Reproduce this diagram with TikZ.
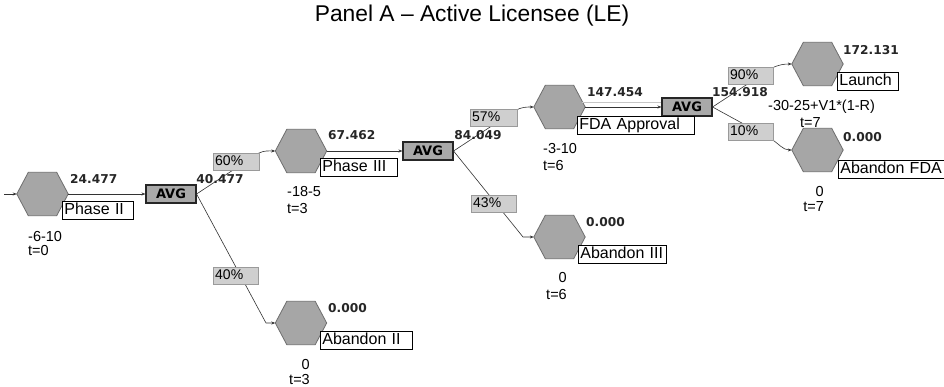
\documentclass[tikz,border=0pt]{standalone}
\usepackage{fontspec}
\setmainfont{Liberation Sans}
\newfontfamily\numfont{DejaVu Sans}
\usetikzlibrary{arrows.meta}
\definecolor{hexfill}{HTML}{A6A6A6}
\definecolor{hexline}{HTML}{6E6E6E}
\definecolor{avgfill}{HTML}{A9A9A9}
\definecolor{pctfill}{HTML}{CFCFCF}
\definecolor{pctline}{HTML}{9A9A9A}
\tikzset{
  hexbox/.style={inner sep=0pt, minimum width=51pt, minimum height=43pt},
  hexstyle/.style={fill=hexfill, draw=hexline, line width=0.8pt, line join=miter},
  avgbox/.style={draw=black!85, line width=1.1pt, fill=avgfill, inner sep=0pt,
    minimum width=50pt, minimum height=18pt,
    font=\numfont\bfseries\fontsize{13}{13}\selectfont},
  pctbox/.style={draw=pctline, fill=pctfill, anchor=north west, align=left,
    inner xsep=2pt, inner ysep=0pt, text height=10.5pt, text depth=3pt, minimum height=17pt,
    font=\fontsize{14}{14}\selectfont},
  lblbox/.style={draw=black, line width=0.7pt, fill=white, anchor=north west, align=left,
    inner xsep=2pt, inner ysep=0pt, text height=12.5pt, text depth=3.5pt, minimum height=18pt,
    font=\fontsize{16}{16}\selectfont},
  valtxt/.style={font=\numfont\bfseries\fontsize{12.2}{12}\selectfont, text=black!85,
    inner sep=0pt},
  costtxt/.style={font=\fontsize{14.5}{14.5}\selectfont, inner sep=0pt},
  conn/.style={draw=black!80, line width=0.6pt, -{Stealth[length=4pt,width=3pt]}},
}
\newcommand\hexat[3]{%
  \node[hexbox] (#1) at (#2,#3) {};
  \filldraw[hexstyle] (#1.west) -- ([xshift=11.5pt]#1.north west) -- ([xshift=-11.5pt]#1.north east)
    -- (#1.east) -- ([xshift=-11.5pt]#1.south east) -- ([xshift=11.5pt]#1.south west) -- cycle;
}
\begin{document}
\begin{tikzpicture}[x=1pt,y=-1pt]
\useasboundingbox (0,0) rectangle (944,387);
\fill[white] (0,0) rectangle (944,387);

% title
\node[font=\fontsize{22.8}{23}\selectfont, inner sep=0pt] (title) at (472,16) {Panel A – Active Licensee (LE)};

% hexagons
\hexat{hexA}{42.5}{194}
\hexat{hexB}{301}{151}
\hexat{hexC}{301}{323}
\hexat{hexD}{559.5}{107}
\hexat{hexE}{559.5}{237}
\hexat{hexF}{817.5}{64}
\hexat{hexG}{817.5}{150}

% decision boxes
\node[avgbox] (avg1) at (171,194) {AVG};
\node[avgbox] (avg2) at (428,151) {AVG};
\node[avgbox] (avg3) at (687,107) {AVG};

% bend points and free ends
\coordinate (start) at (4,194);
\coordinate (b1u) at (259,153);
\coordinate (b1d) at (266,323);
\coordinate (b2u) at (516,110);
\coordinate (b2d) at (523,237);
\coordinate (b3u) at (772,68);
\coordinate (b3d) at (771,139);

% connectors
\draw[conn] (start) -- (hexA.west);
\draw[conn] (hexA.east) -- (avg1.west);
\draw[conn] (hexB.east) -- (avg2.west);
\draw[conn] (hexD.east) -- (avg3.west);
\draw[gray!45, line width=0.5pt] ([xshift=-3pt,yshift=5pt]hexD.east) -- ([yshift=5pt]avg3.west);
\draw[conn] (avg1.east) -- (b1u) to[out=25,in=180] (hexB.west);
\draw[conn] (avg1.east) -- (b1d) -- (hexC.west);
\draw[conn] (avg2.east) -- (b2u) to[out=25,in=180] (hexD.west);
\draw[conn] (avg2.east) -- (b2d) -- (hexE.west);
\draw[conn] (avg3.east) -- (b3u) to[out=25,in=180] (hexF.west);
\draw[conn] (avg3.east) -- (b3d) to[out=-30,in=180] (hexG.west);

% probability boxes
\node[pctbox, text width=41.6pt] (p60) at (213,153) {60\%};
\node[pctbox, text width=40.6pt] (p40) at (213,267) {40\%};
\node[pctbox, text width=42.6pt] (p57) at (470,109) {57\%};
\node[pctbox, text width=40.6pt] (p43) at (471,195) {43\%};
\node[pctbox, text width=40.6pt] (p90) at (728,67) {90\%};
\node[pctbox, text width=40.6pt] (p10) at (728,123) {10\%};

% name boxes
\node[lblbox, text width=66.6pt] (lA) at (62,201) {Phase II};
\node[lblbox, text width=72.6pt] (lB) at (320,158) {Phase III};
\node[lblbox, text width=87.6pt] (lC) at (320,331) {Abandon II};
\node[lblbox, text width=112.6pt] (lD) at (577,116) {FDA Approval};
\node[lblbox, text width=84pt] (lE) at (578,245) {Abandon III};
\node[lblbox, text width=56.6pt] (lF) at (837,72) {Launch};
\node[lblbox, text width=102pt] (lG) at (838,160) {Abandon FDA};

% values
\node[valtxt, anchor=west] (vA) at (70,179) {24.477};
\node[valtxt] (v1) at (220,179) {40.477};
\node[valtxt, anchor=west] (vB) at (328,135) {67.462};
\node[valtxt, anchor=west] (vC) at (328,308) {0.000};
\node[valtxt] (v2) at (478,135) {84.049};
\node[valtxt, anchor=west] (vD) at (587,92) {147.454};
\node[valtxt, anchor=west] (vE) at (586,222) {0.000};
\node[valtxt] (v3) at (740,92) {154.918};
\node[valtxt, anchor=west] (vF) at (843,50) {172.131};
\node[valtxt, anchor=west] (vG) at (843,137) {0.000};

% cash flows and times
\node[costtxt, anchor=west] (cA) at (28,237) {-6-10};
\node[costtxt, anchor=west] (tA) at (28,251) {t=0};
\node[costtxt, anchor=west] (cB) at (287,192) {-18-5};
\node[costtxt, anchor=west] (tB) at (287,209) {t=3};
\node[costtxt, anchor=east] (cC) at (310,365) {0};
\node[costtxt, anchor=east] (tC) at (310,380) {t=3};
\node[costtxt, anchor=west] (cD) at (543,149) {-3-10};
\node[costtxt, anchor=west] (tD) at (543,166) {t=6};
\node[costtxt, anchor=east] (cE) at (567,278) {0};
\node[costtxt, anchor=east] (tE) at (567,295) {t=6};
\node[costtxt, anchor=west] (cF) at (768,107) {-30-25+V1*(1-R)};
\node[costtxt, anchor=west] (tF) at (800,123) {t=7};
\node[costtxt, anchor=east] (cG) at (824,192) {0};
\node[costtxt, anchor=east] (tG) at (824,207) {t=7};
\end{tikzpicture}
\end{document}
